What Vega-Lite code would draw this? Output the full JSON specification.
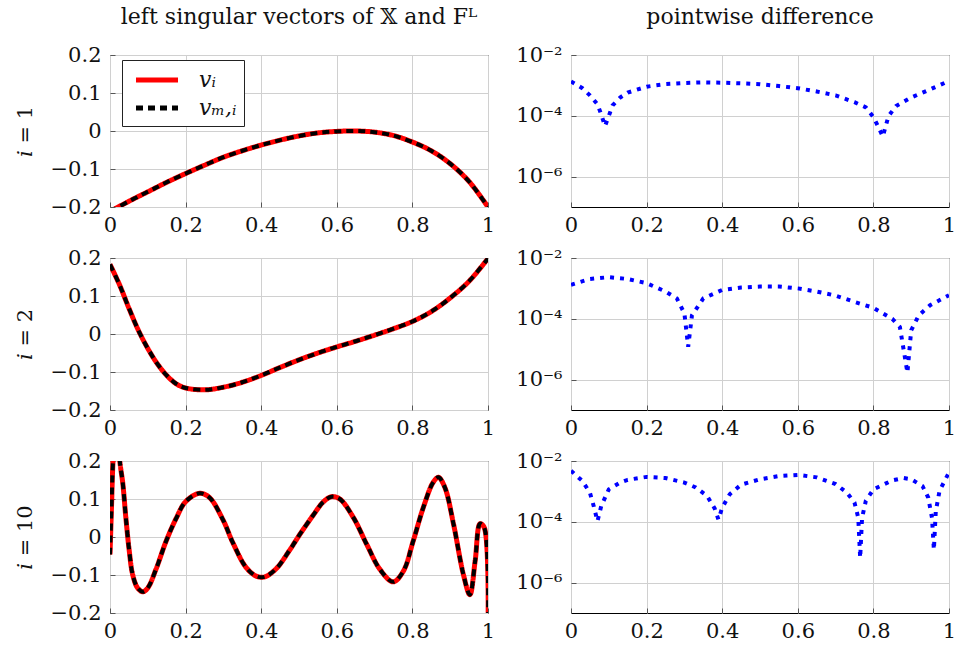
{
  "$schema": "https://vega.github.io/schema/vega-lite/v6.json",
  "padding": {"left": 13, "top": 5, "right": 3, "bottom": 3},
  "datasets": {
    "v1": [
      {"x": 0, "vi": -0.212, "vm": -0.212}, {"x": 0.05, "vi": -0.185, "vm": -0.185}, {"x": 0.1, "vi": -0.16, "vm": -0.16},
      {"x": 0.15, "vi": -0.135, "vm": -0.135}, {"x": 0.2, "vi": -0.112, "vm": -0.112}, {"x": 0.25, "vi": -0.09, "vm": -0.09},
      {"x": 0.3, "vi": -0.069, "vm": -0.069}, {"x": 0.35, "vi": -0.052, "vm": -0.052}, {"x": 0.4, "vi": -0.037, "vm": -0.037},
      {"x": 0.45, "vi": -0.024, "vm": -0.024}, {"x": 0.5, "vi": -0.013, "vm": -0.013}, {"x": 0.55, "vi": -0.005, "vm": -0.005},
      {"x": 0.6, "vi": -0.001, "vm": -0.001}, {"x": 0.65, "vi": 0.0, "vm": 0.0}, {"x": 0.7, "vi": -0.003, "vm": -0.003},
      {"x": 0.75, "vi": -0.012, "vm": -0.012}, {"x": 0.8, "vi": -0.029, "vm": -0.029}, {"x": 0.85, "vi": -0.052, "vm": -0.052},
      {"x": 0.9, "vi": -0.086, "vm": -0.086}, {"x": 0.95, "vi": -0.133, "vm": -0.133}, {"x": 1.0, "vi": -0.2, "vm": -0.2}
    ],
    "v2": [
      {"x": 0, "vi": 0.183, "vm": 0.183}, {"x": 0.025, "vi": 0.13, "vm": 0.13}, {"x": 0.05, "vi": 0.068, "vm": 0.068},
      {"x": 0.075, "vi": 0.01, "vm": 0.01}, {"x": 0.1, "vi": -0.038, "vm": -0.038}, {"x": 0.125, "vi": -0.078, "vm": -0.078},
      {"x": 0.15, "vi": -0.109, "vm": -0.109}, {"x": 0.175, "vi": -0.131, "vm": -0.131}, {"x": 0.2, "vi": -0.142, "vm": -0.142},
      {"x": 0.25, "vi": -0.147, "vm": -0.147}, {"x": 0.3, "vi": -0.14, "vm": -0.14}, {"x": 0.35, "vi": -0.127, "vm": -0.127},
      {"x": 0.4, "vi": -0.109, "vm": -0.109}, {"x": 0.45, "vi": -0.088, "vm": -0.088}, {"x": 0.5, "vi": -0.068, "vm": -0.068},
      {"x": 0.55, "vi": -0.05, "vm": -0.05}, {"x": 0.6, "vi": -0.034, "vm": -0.034}, {"x": 0.65, "vi": -0.019, "vm": -0.019},
      {"x": 0.7, "vi": -0.003, "vm": -0.003}, {"x": 0.75, "vi": 0.014, "vm": 0.014}, {"x": 0.8, "vi": 0.033, "vm": 0.033},
      {"x": 0.85, "vi": 0.059, "vm": 0.059}, {"x": 0.9, "vi": 0.095, "vm": 0.095}, {"x": 0.95, "vi": 0.139, "vm": 0.139},
      {"x": 1.0, "vi": 0.199, "vm": 0.199}
    ],
    "v10": [
      {"x": 0, "vi": -0.046, "vm": -0.046}, {"x": 0.004, "vi": 0.08, "vm": 0.08}, {"x": 0.008, "vi": 0.2, "vm": 0.2},
      {"x": 0.015, "vi": 0.3, "vm": 0.3}, {"x": 0.022, "vi": 0.28, "vm": 0.28}, {"x": 0.026, "vi": 0.2, "vm": 0.2},
      {"x": 0.034, "vi": 0.14, "vm": 0.14}, {"x": 0.042, "vi": 0.05, "vm": 0.05}, {"x": 0.051, "vi": -0.037, "vm": -0.037},
      {"x": 0.06, "vi": -0.099, "vm": -0.099}, {"x": 0.073, "vi": -0.134, "vm": -0.134}, {"x": 0.087, "vi": -0.144, "vm": -0.144},
      {"x": 0.1, "vi": -0.134, "vm": -0.134}, {"x": 0.122, "vi": -0.084, "vm": -0.084}, {"x": 0.148, "vi": -0.012, "vm": -0.012},
      {"x": 0.175, "vi": 0.049, "vm": 0.049}, {"x": 0.2, "vi": 0.093, "vm": 0.093}, {"x": 0.237, "vi": 0.115, "vm": 0.115},
      {"x": 0.263, "vi": 0.104, "vm": 0.104}, {"x": 0.299, "vi": 0.045, "vm": 0.045}, {"x": 0.325, "vi": -0.015, "vm": -0.015},
      {"x": 0.36, "vi": -0.08, "vm": -0.08}, {"x": 0.387, "vi": -0.103, "vm": -0.103}, {"x": 0.409, "vi": -0.105, "vm": -0.105},
      {"x": 0.44, "vi": -0.083, "vm": -0.083}, {"x": 0.475, "vi": -0.035, "vm": -0.035}, {"x": 0.503, "vi": 0.008, "vm": 0.008},
      {"x": 0.538, "vi": 0.058, "vm": 0.058}, {"x": 0.564, "vi": 0.092, "vm": 0.092}, {"x": 0.586, "vi": 0.106, "vm": 0.106},
      {"x": 0.608, "vi": 0.1, "vm": 0.1}, {"x": 0.644, "vi": 0.051, "vm": 0.051}, {"x": 0.679, "vi": -0.019, "vm": -0.019},
      {"x": 0.714, "vi": -0.085, "vm": -0.085}, {"x": 0.749, "vi": -0.118, "vm": -0.118}, {"x": 0.776, "vi": -0.09, "vm": -0.09},
      {"x": 0.802, "vi": -0.011, "vm": -0.011}, {"x": 0.829, "vi": 0.078, "vm": 0.078}, {"x": 0.855, "vi": 0.144, "vm": 0.144},
      {"x": 0.869, "vi": 0.157, "vm": 0.157}, {"x": 0.886, "vi": 0.13, "vm": 0.13}, {"x": 0.909, "vi": 0.033, "vm": 0.033},
      {"x": 0.935, "vi": -0.099, "vm": -0.099}, {"x": 0.952, "vi": -0.152, "vm": -0.152}, {"x": 0.966, "vi": -0.063, "vm": -0.063},
      {"x": 0.979, "vi": 0.035, "vm": 0.035}, {"x": 0.99, "vi": 0.025, "vm": 0.025}, {"x": 1.0, "vi": -0.26, "vm": -0.26}
    ],
    "d1": [
      {"x": 0, "d": 1.35e-3}, {"x": 0.03, "d": 8.1e-4}, {"x": 0.05, "d": 4.7e-4}, {"x": 0.07, "d": 2.4e-4},
      {"x": 0.08, "d": 1.1e-4}, {"x": 0.09, "d": 4.6e-5}, {"x": 0.1, "d": 9.8e-5}, {"x": 0.11, "d": 2.2e-4},
      {"x": 0.13, "d": 4.0e-4}, {"x": 0.15, "d": 5.8e-4}, {"x": 0.2, "d": 9.1e-4}, {"x": 0.25, "d": 1.1e-3},
      {"x": 0.3, "d": 1.2e-3}, {"x": 0.35, "d": 1.26e-3}, {"x": 0.4, "d": 1.23e-3}, {"x": 0.45, "d": 1.17e-3},
      {"x": 0.5, "d": 1.1e-3}, {"x": 0.55, "d": 9.5e-4}, {"x": 0.6, "d": 8.1e-4}, {"x": 0.65, "d": 6.3e-4},
      {"x": 0.7, "d": 4.7e-4}, {"x": 0.75, "d": 2.8e-4}, {"x": 0.78, "d": 1.9e-4}, {"x": 0.8, "d": 9.1e-5},
      {"x": 0.81, "d": 5.1e-5}, {"x": 0.825, "d": 2.1e-5}, {"x": 0.84, "d": 9.8e-5}, {"x": 0.86, "d": 2.1e-4},
      {"x": 0.9, "d": 4.0e-4}, {"x": 0.95, "d": 7.4e-4}, {"x": 1.0, "d": 1.4e-3}
    ],
    "d2": [
      {"x": 0, "d": 1.32e-3}, {"x": 0.05, "d": 2.04e-3}, {"x": 0.1, "d": 2.34e-3}, {"x": 0.15, "d": 2.04e-3},
      {"x": 0.2, "d": 1.48e-3}, {"x": 0.25, "d": 7.9e-4}, {"x": 0.28, "d": 4.7e-4}, {"x": 0.3, "d": 1.5e-4},
      {"x": 0.31, "d": 1.2e-5}, {"x": 0.32, "d": 1.3e-4}, {"x": 0.35, "d": 4.7e-4}, {"x": 0.4, "d": 8.9e-4},
      {"x": 0.45, "d": 1.07e-3}, {"x": 0.5, "d": 1.15e-3}, {"x": 0.55, "d": 1.15e-3}, {"x": 0.6, "d": 1.0e-3},
      {"x": 0.65, "d": 7.9e-4}, {"x": 0.7, "d": 5.8e-4}, {"x": 0.75, "d": 3.6e-4}, {"x": 0.8, "d": 2.3e-4},
      {"x": 0.85, "d": 1.0e-4}, {"x": 0.87, "d": 5.4e-5}, {"x": 0.89, "d": 1.7e-6}, {"x": 0.9, "d": 4.2e-5},
      {"x": 0.92, "d": 1.3e-4}, {"x": 0.95, "d": 2.8e-4}, {"x": 1.0, "d": 6.0e-4}
    ],
    "d10": [
      {"x": 0, "d": 4.8e-3}, {"x": 0.03, "d": 2.2e-3}, {"x": 0.05, "d": 9.1e-4}, {"x": 0.06, "d": 3.3e-4},
      {"x": 0.07, "d": 1.05e-4}, {"x": 0.08, "d": 3.3e-4}, {"x": 0.1, "d": 1.17e-3}, {"x": 0.13, "d": 1.95e-3},
      {"x": 0.15, "d": 2.4e-3}, {"x": 0.2, "d": 3.0e-3}, {"x": 0.25, "d": 2.75e-3}, {"x": 0.3, "d": 1.95e-3},
      {"x": 0.33, "d": 1.35e-3}, {"x": 0.36, "d": 7.1e-4}, {"x": 0.38, "d": 2.75e-4}, {"x": 0.39, "d": 1.2e-4},
      {"x": 0.4, "d": 2.9e-4}, {"x": 0.42, "d": 8.1e-4}, {"x": 0.45, "d": 1.66e-3}, {"x": 0.5, "d": 2.5e-3},
      {"x": 0.55, "d": 3.2e-3}, {"x": 0.6, "d": 3.5e-3}, {"x": 0.65, "d": 2.9e-3}, {"x": 0.7, "d": 1.74e-3},
      {"x": 0.73, "d": 9.1e-4}, {"x": 0.75, "d": 4.3e-4}, {"x": 0.76, "d": 1.35e-4}, {"x": 0.765, "d": 6.5e-6},
      {"x": 0.77, "d": 1.35e-4}, {"x": 0.78, "d": 4.9e-4}, {"x": 0.8, "d": 1.17e-3}, {"x": 0.85, "d": 2.3e-3},
      {"x": 0.88, "d": 2.75e-3}, {"x": 0.9, "d": 2.5e-3}, {"x": 0.93, "d": 1.5e-3}, {"x": 0.945, "d": 6.3e-4},
      {"x": 0.955, "d": 1.35e-4}, {"x": 0.96, "d": 1.2e-5}, {"x": 0.965, "d": 2.2e-4}, {"x": 0.975, "d": 1.05e-3},
      {"x": 1.0, "d": 4.2e-3}
    ]
  },
  "columns": 2,
  "spacing": {"row": 51, "column": 83},
  "bounds": "flush",
  "resolve": {"legend": {"color": "independent", "strokeDash": "independent"}},
  "concat": [
    {
      "width": 378, "height": 152,
      "title": {"text": "left singular vectors of 𝕏 and Fᴸ", "anchor": "middle", "offset": 15},
      "data": {"name": "v1"},
      "transform": [{"fold": ["vi", "vm"], "as": ["s", "y"]}],
      "mark": {"type": "line", "clip": true, "interpolate": "catmull-rom"},
      "encoding": {
        "x": {"field": "x", "type": "quantitative", "scale": {"domain": [0, 1], "nice": false}, "axis": {"values": [0, 0.2, 0.4, 0.6, 0.8, 1], "format": "~g", "title": null}},
        "y": {"field": "y", "type": "quantitative", "scale": {"domain": [-0.2, 0.2], "nice": false, "zero": false}, "axis": {"values": [-0.2, -0.1, 0, 0.1, 0.2], "format": "~g", "title": "𝑖 = 1"}},
        "color": {"field": "s", "type": "nominal", "scale": {"domain": ["vi", "vm"], "range": ["#ff0000", "#000000"]},
          "legend": {"orient": "none", "legendX": 12, "legendY": 5, "title": null, "fillColor": "white", "strokeColor": "#222", "padding": 7, "symbolType": "M-2,0L2,0", "symbolSize": 441, "symbolStrokeWidth": 5, "symbolOffset": 15, "labelOffset": 29, "rowPadding": 4, "labelFontSize": 22, "labelFontStyle": "italic", "labelExpr": "datum.label == 'vi' ? 'vᵢ' : 'vₘ,ᵢ'"}},
        "strokeDash": {"field": "s", "type": "nominal", "scale": {"domain": ["vi", "vm"], "range": [[1, 0], [7, 5]]},
          "legend": {"orient": "none", "legendX": 12, "legendY": 5, "title": null, "fillColor": "white", "strokeColor": "#222", "padding": 7, "symbolType": "M-2,0L2,0", "symbolSize": 441, "symbolStrokeWidth": 5, "symbolOffset": 15, "labelOffset": 29, "rowPadding": 4, "labelFontSize": 22, "labelFontStyle": "italic", "labelExpr": "datum.label == 'vi' ? 'vᵢ' : 'vₘ,ᵢ'"}},
        "strokeWidth": {"field": "s", "type": "nominal", "scale": {"domain": ["vi", "vm"], "range": [5, 4]}, "legend": null}
      }
    },
    {
      "width": 378, "height": 152,
      "title": {"text": "pointwise difference", "anchor": "middle", "offset": 15},
      "data": {"name": "d1"},
      "mark": {"type": "line", "clip": true, "color": "#0000ff", "strokeWidth": 4, "strokeDash": [4, 6]},
      "encoding": {
        "x": {"field": "x", "type": "quantitative", "scale": {"domain": [0, 1], "nice": false}, "axis": {"values": [0, 0.2, 0.4, 0.6, 0.8, 1], "format": "~g", "title": null}},
        "y": {"field": "d", "type": "quantitative", "scale": {"type": "log", "domain": [1e-7, 1e-2], "nice": false}, "axis": {"values": [1e-6, 1e-4, 1e-2], "title": null, "labelExpr": "datum.value > 0.005 ? '10⁻²' : datum.value > 0.00005 ? '10⁻⁴' : '10⁻⁶'"}}
      }
    },
    {
      "width": 378, "height": 152,
      "data": {"name": "v2"},
      "transform": [{"fold": ["vi", "vm"], "as": ["s", "y"]}],
      "mark": {"type": "line", "clip": true, "interpolate": "catmull-rom"},
      "encoding": {
        "x": {"field": "x", "type": "quantitative", "scale": {"domain": [0, 1], "nice": false}, "axis": {"values": [0, 0.2, 0.4, 0.6, 0.8, 1], "format": "~g", "title": null}},
        "y": {"field": "y", "type": "quantitative", "scale": {"domain": [-0.2, 0.2], "nice": false, "zero": false}, "axis": {"values": [-0.2, -0.1, 0, 0.1, 0.2], "format": "~g", "title": "𝑖 = 2"}},
        "color": {"field": "s", "type": "nominal", "scale": {"domain": ["vi", "vm"], "range": ["#ff0000", "#000000"]}, "legend": null},
        "strokeDash": {"field": "s", "type": "nominal", "scale": {"domain": ["vi", "vm"], "range": [[1, 0], [7, 5]]}, "legend": null},
        "strokeWidth": {"field": "s", "type": "nominal", "scale": {"domain": ["vi", "vm"], "range": [5, 4]}, "legend": null}
      }
    },
    {
      "width": 378, "height": 152,
      "data": {"name": "d2"},
      "mark": {"type": "line", "clip": true, "color": "#0000ff", "strokeWidth": 4, "strokeDash": [4, 6]},
      "encoding": {
        "x": {"field": "x", "type": "quantitative", "scale": {"domain": [0, 1], "nice": false}, "axis": {"values": [0, 0.2, 0.4, 0.6, 0.8, 1], "format": "~g", "title": null}},
        "y": {"field": "d", "type": "quantitative", "scale": {"type": "log", "domain": [1e-7, 1e-2], "nice": false}, "axis": {"values": [1e-6, 1e-4, 1e-2], "title": null, "labelExpr": "datum.value > 0.005 ? '10⁻²' : datum.value > 0.00005 ? '10⁻⁴' : '10⁻⁶'"}}
      }
    },
    {
      "width": 378, "height": 152,
      "data": {"name": "v10"},
      "transform": [{"fold": ["vi", "vm"], "as": ["s", "y"]}],
      "mark": {"type": "line", "clip": true, "interpolate": "catmull-rom"},
      "encoding": {
        "x": {"field": "x", "type": "quantitative", "scale": {"domain": [0, 1], "nice": false}, "axis": {"values": [0, 0.2, 0.4, 0.6, 0.8, 1], "format": "~g", "title": null}},
        "y": {"field": "y", "type": "quantitative", "scale": {"domain": [-0.2, 0.2], "nice": false, "zero": false}, "axis": {"values": [-0.2, -0.1, 0, 0.1, 0.2], "format": "~g", "title": "𝑖 = 10"}},
        "color": {"field": "s", "type": "nominal", "scale": {"domain": ["vi", "vm"], "range": ["#ff0000", "#000000"]}, "legend": null},
        "strokeDash": {"field": "s", "type": "nominal", "scale": {"domain": ["vi", "vm"], "range": [[1, 0], [7, 5]]}, "legend": null},
        "strokeWidth": {"field": "s", "type": "nominal", "scale": {"domain": ["vi", "vm"], "range": [5, 4]}, "legend": null}
      }
    },
    {
      "width": 378, "height": 152,
      "data": {"name": "d10"},
      "mark": {"type": "line", "clip": true, "color": "#0000ff", "strokeWidth": 4, "strokeDash": [4, 6]},
      "encoding": {
        "x": {"field": "x", "type": "quantitative", "scale": {"domain": [0, 1], "nice": false}, "axis": {"values": [0, 0.2, 0.4, 0.6, 0.8, 1], "format": "~g", "title": null}},
        "y": {"field": "d", "type": "quantitative", "scale": {"type": "log", "domain": [1e-7, 1e-2], "nice": false}, "axis": {"values": [1e-6, 1e-4, 1e-2], "title": null, "labelExpr": "datum.value > 0.005 ? '10⁻²' : datum.value > 0.00005 ? '10⁻⁴' : '10⁻⁶'"}}
      }
    }
  ],
  "config": {
    "font": "DejaVu Serif",
    "background": "white",
    "view": {"stroke": "#000000", "strokeWidth": 1},
    "axis": {"grid": true, "gridColor": "#d0d0d0", "gridWidth": 1, "domain": false, "ticks": true, "tickSize": -5, "tickColor": "#555", "tickWidth": 1, "labelFont": "DejaVu Serif", "labelFontSize": 21, "labelColor": "#111", "labelFlush": false, "labelOverlap": false, "titleFont": "DejaVu Serif", "titleFontSize": 21, "titleFontWeight": "normal", "titleColor": "#111", "titlePadding": 15},
    "axisX": {"labelPadding": 12},
    "axisY": {"labelPadding": 14},
    "title": {"font": "DejaVu Serif", "fontSize": 22, "fontWeight": "normal", "color": "#111"},
    "legend": {"labelFont": "DejaVu Serif", "labelColor": "#111"}
  }
}
